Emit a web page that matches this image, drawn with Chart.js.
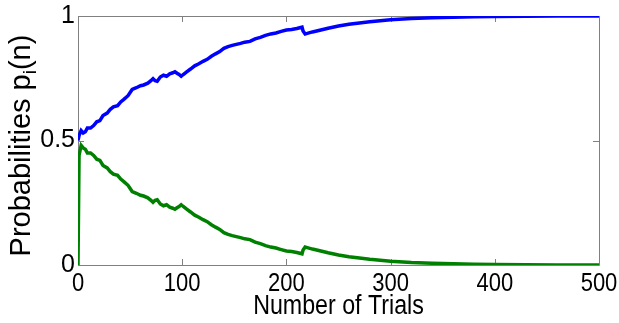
<!DOCTYPE html>
<html>
<head>
<meta charset="utf-8">
<script src="https://cdn.jsdelivr.net/npm/chart.js@4/dist/chart.umd.min.js"></script>
<style>
  html, body { margin: 0; padding: 0; background: #fff; }
  #wrap { width: 619px; height: 323px; }
</style>
</head>
<body>
<div id="wrap"><canvas id="probChart" width="619" height="323"></canvas></div>
<script>
// trial numbers and the two probability traces
const trials = [0, 1, 3, 5, 7, 9, 12, 15, 18, 21, 24, 28, 31, 34, 38, 41, 44, 48, 52, 56, 60, 63, 67, 70, 72, 74, 76, 79, 82, 85, 88, 91, 93, 95, 97, 99, 101, 104, 108, 112, 116, 120, 124, 128, 132, 136, 140, 144, 148, 152, 156, 160, 165, 170, 175, 180, 185, 190, 195, 200, 205, 210, 215, 216, 218, 220, 225, 230, 240, 250, 260, 270, 280, 290, 300, 320, 340, 360, 380, 400, 430, 460, 500];

const pBlue = [0.5, 0.52, 0.54, 0.53, 0.535, 0.55, 0.55, 0.56, 0.575, 0.58, 0.6, 0.61, 0.625, 0.635, 0.64, 0.655, 0.665, 0.68, 0.705, 0.712, 0.72, 0.723, 0.73, 0.74, 0.748, 0.74, 0.738, 0.755, 0.762, 0.758, 0.768, 0.772, 0.776, 0.77, 0.765, 0.758, 0.765, 0.775, 0.787, 0.8, 0.808, 0.818, 0.826, 0.838, 0.848, 0.857, 0.87, 0.877, 0.882, 0.886, 0.89, 0.895, 0.898, 0.908, 0.914, 0.922, 0.928, 0.932, 0.938, 0.944, 0.946, 0.95, 0.955, 0.94, 0.928, 0.93, 0.936, 0.941, 0.951, 0.96, 0.967, 0.972, 0.977, 0.981, 0.985, 0.99, 0.993, 0.995, 0.997, 0.998, 0.999, 0.9995, 1.0];

const pGreen = [0, 0.44, 0.48, 0.47, 0.465, 0.45, 0.45, 0.44, 0.425, 0.42, 0.4, 0.39, 0.375, 0.365, 0.36, 0.345, 0.335, 0.32, 0.295, 0.288, 0.28, 0.277, 0.27, 0.26, 0.252, 0.26, 0.262, 0.245, 0.238, 0.242, 0.232, 0.228, 0.224, 0.23, 0.235, 0.242, 0.235, 0.225, 0.213, 0.2, 0.192, 0.182, 0.174, 0.162, 0.152, 0.143, 0.13, 0.123, 0.118, 0.114, 0.11, 0.105, 0.102, 0.092, 0.086, 0.078, 0.072, 0.068, 0.062, 0.056, 0.054, 0.05, 0.045, 0.06, 0.072, 0.07, 0.064, 0.059, 0.049, 0.04, 0.033, 0.028, 0.023, 0.019, 0.015, 0.01, 0.007, 0.005, 0.003, 0.002, 0.001, 0.0005, 0];

const xTicks = [0, 100, 200, 300, 400, 500];
const yTicks = [0, 0.5, 1];
const xTitle = 'Number of Trials';

const FONT = '"Liberation Sans", Arial, sans-serif';
const AXIS_GRAY = '#808080';

function toPoints(ys) {
    return trials.map((t, i) => ({ x: t, y: ys[i] }));
}

// text squeezed horizontally, centred on (cx, cy)
function condensedText(ctx, text, cx, cy, size, squeeze) {
    ctx.save();
    ctx.font = size + 'px ' + FONT;
    ctx.textAlign = 'center';
    ctx.textBaseline = 'middle';
    ctx.fillStyle = '#000';
    ctx.translate(cx, cy);
    ctx.scale(squeeze, 1);
    ctx.fillText(text, 0, 0);
    ctx.restore();
}

const framePlugin = {
    id: 'frame',
    // box around the plot with short inward ticks on all four sides
    beforeDraw(chart) {
        const { ctx, chartArea: a } = chart;
        const x = chart.scales.x, y = chart.scales.y;
        const len = 6;
        ctx.save();
        ctx.strokeStyle = AXIS_GRAY;
        ctx.lineWidth = 1;
        ctx.beginPath();
        ctx.rect(Math.round(a.left) + 0.5, Math.round(a.top) + 0.5,
                 Math.round(a.right - a.left), Math.round(a.bottom - a.top));
        xTicks.forEach(v => {
            const px = Math.round(x.getPixelForValue(v)) + 0.5;
            ctx.moveTo(px, a.bottom); ctx.lineTo(px, a.bottom - len);
            ctx.moveTo(px, a.top); ctx.lineTo(px, a.top + len);
        });
        yTicks.forEach(v => {
            const py = Math.round(y.getPixelForValue(v)) + 0.5;
            ctx.moveTo(a.left, py); ctx.lineTo(a.left + len, py);
            ctx.moveTo(a.right, py); ctx.lineTo(a.right - len, py);
        });
        ctx.stroke();
        ctx.restore();
    },
    afterDraw(chart) {
        const { ctx, chartArea: a } = chart;
        const x = chart.scales.x;

        // x tick labels and title in a narrow face
        xTicks.forEach(v => {
            condensedText(ctx, String(v), x.getPixelForValue(v), a.bottom + 19, 25, 0.88);
        });
        condensedText(ctx, xTitle, (a.left + a.right) / 2, a.bottom + 42, 27, 0.86);

        // y title with a subscript i
        const big = 29, small = 19;
        ctx.save();
        ctx.translate(22, (a.top + a.bottom) / 2 + 5);
        ctx.rotate(-Math.PI / 2);
        ctx.fillStyle = '#000';
        ctx.textBaseline = 'middle';
        const part1 = 'Probabilities p', sub = 'i', part2 = '(n)';
        ctx.font = big + 'px ' + FONT;
        const w1 = ctx.measureText(part1).width;
        const w3 = ctx.measureText(part2).width;
        ctx.font = small + 'px ' + FONT;
        const w2 = ctx.measureText(sub).width;
        const x0 = -(w1 + w2 + w3) / 2;
        ctx.font = big + 'px ' + FONT;
        ctx.fillText(part1, x0, 0);
        ctx.font = small + 'px ' + FONT;
        ctx.fillText(sub, x0 + w1, 9);
        ctx.font = big + 'px ' + FONT;
        ctx.fillText(part2, x0 + w1 + w2, 0);
        ctx.restore();
    }
};

new Chart(document.getElementById('probChart'), {
    type: 'line',
    data: {
        datasets: [
            {
                data: toPoints(pBlue),
                borderColor: '#0000ff',
                borderWidth: 3.5,
                pointRadius: 0,
                tension: 0
            },
            {
                data: toPoints(pGreen),
                borderColor: '#008000',
                borderWidth: 3.5,
                pointRadius: 0,
                tension: 0
            }
        ]
    },
    options: {
        responsive: false,
        animation: false,
        events: [],
        layout: { padding: { top: 16, right: 20, left: 0, bottom: 0 } },
        plugins: {
            legend: { display: false },
            tooltip: { enabled: false }
        },
        scales: {
            x: {
                type: 'linear',
                min: 0,
                max: 500,
                afterBuildTicks(scale) {
                    scale.ticks = xTicks.map(v => ({ value: v }));
                },
                afterFit(scale) {
                    scale.height = 58;
                    scale.paddingLeft = 0;
                    scale.paddingRight = 0;
                },
                grid: { display: false, drawTicks: false },
                border: { display: false },
                ticks: { display: false }
            },
            y: {
                min: 0,
                max: 1,
                afterBuildTicks(scale) {
                    scale.ticks = yTicks.map(v => ({ value: v }));
                },
                afterFit(scale) {
                    scale.width = 78;
                    scale.paddingTop = 0;
                    scale.paddingBottom = 0;
                },
                grid: { display: false, drawTicks: false },
                border: { display: false },
                ticks: {
                    color: '#000',
                    padding: 3,
                    callback: v => String(v),
                    font: { family: FONT, size: 25 }
                }
            }
        }
    },
    plugins: [framePlugin]
});
</script>
</body>
</html>
